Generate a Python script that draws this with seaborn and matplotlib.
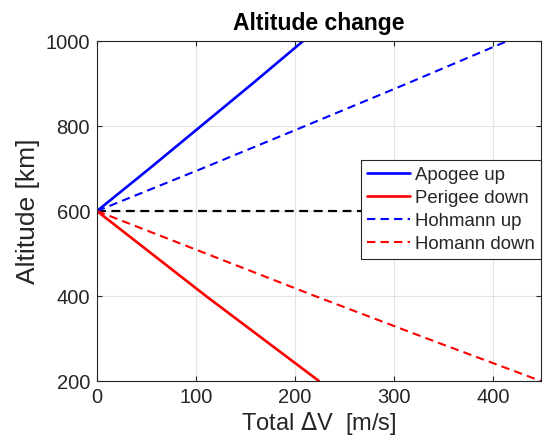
import matplotlib
matplotlib.use("Agg")
import matplotlib.pyplot as plt
import seaborn as sns
import pandas as pd

# Data
apogee_alt = [600, 700, 800, 900, 1000]
apogee_dv = [0, 53, 105, 157, 208]
hohmann_up_alt = [600, 700, 800, 900, 1000]
hohmann_up_dv = [0, 106, 210, 313, 414]
perigee_alt = [600, 500, 400, 300, 200]
perigee_dv = [0, 55, 110, 167, 224]
homann_down_alt = [600, 500, 400, 300, 200]
homann_down_dv = [0, 110, 220, 333, 448]
ref_alt = [600, 600]
ref_dv = [0, 448]

sns.set_theme(style="white")
plt.rcParams['font.family'] = ['Liberation Sans', 'DejaVu Sans']

fig = plt.figure(figsize=(5.54, 4.46), dpi=100)
ax = fig.add_axes([0.175, 0.1457, 0.8015, 0.7623])

dk = '#262626'
blue = '#0000ff'
red = '#ff0000'

sns.lineplot(x=ref_dv, y=ref_alt, ax=ax, color='black', lw=1.6, legend=False,
             linestyle=(0, (4, 2.5)), sort=False)
sns.lineplot(x=apogee_dv, y=apogee_alt, ax=ax, color=blue, lw=1.9, sort=False, label='Apogee up')
sns.lineplot(x=perigee_dv, y=perigee_alt, ax=ax, color=red, lw=1.9, sort=False, label='Perigee down')
sns.lineplot(x=hohmann_up_dv, y=hohmann_up_alt, ax=ax, color=blue, lw=1.5, sort=False,
             linestyle=(0, (4, 2.5)), label='Hohmann up')
sns.lineplot(x=homann_down_dv, y=homann_down_alt, ax=ax, color=red, lw=1.5, sort=False,
             linestyle=(0, (4, 2.5)), label='Homann down')

ax.set_xlim(0, 448)
ax.set_ylim(200, 1000)
ax.set_xticks([0, 100, 200, 300, 400])
ax.set_yticks([200, 400, 600, 800, 1000])
ax.grid(True, color='#e3e3e3', lw=0.8)
ax.set_axisbelow(True)
for s in ax.spines.values():
    s.set_color(dk)
    s.set_linewidth(0.8)
ax.tick_params(direction='in', length=3.5, width=0.8, colors=dk, labelsize=14.5,
               top=True, right=True, bottom=True, left=True, pad=5)

ax.set_xlabel('Total $\\Delta$V  [m/s]', fontsize=17, color=dk, labelpad=2)
ax.set_ylabel('Altitude [km]', fontsize=19, color=dk, labelpad=4)
ax.set_title('Altitude change', fontsize=16.5, fontweight='bold', color='black', pad=8)

leg = ax.legend(loc='upper right', bbox_to_anchor=(1.0, 0.65), borderaxespad=0,
                fontsize=13.4, frameon=True, fancybox=False, framealpha=1,
                handlelength=2.3, handletextpad=0.25, labelspacing=0.32,
                borderpad=0.35, edgecolor=dk)
leg.get_frame().set_linewidth(0.8)

fig.savefig('out.png', dpi=100)
